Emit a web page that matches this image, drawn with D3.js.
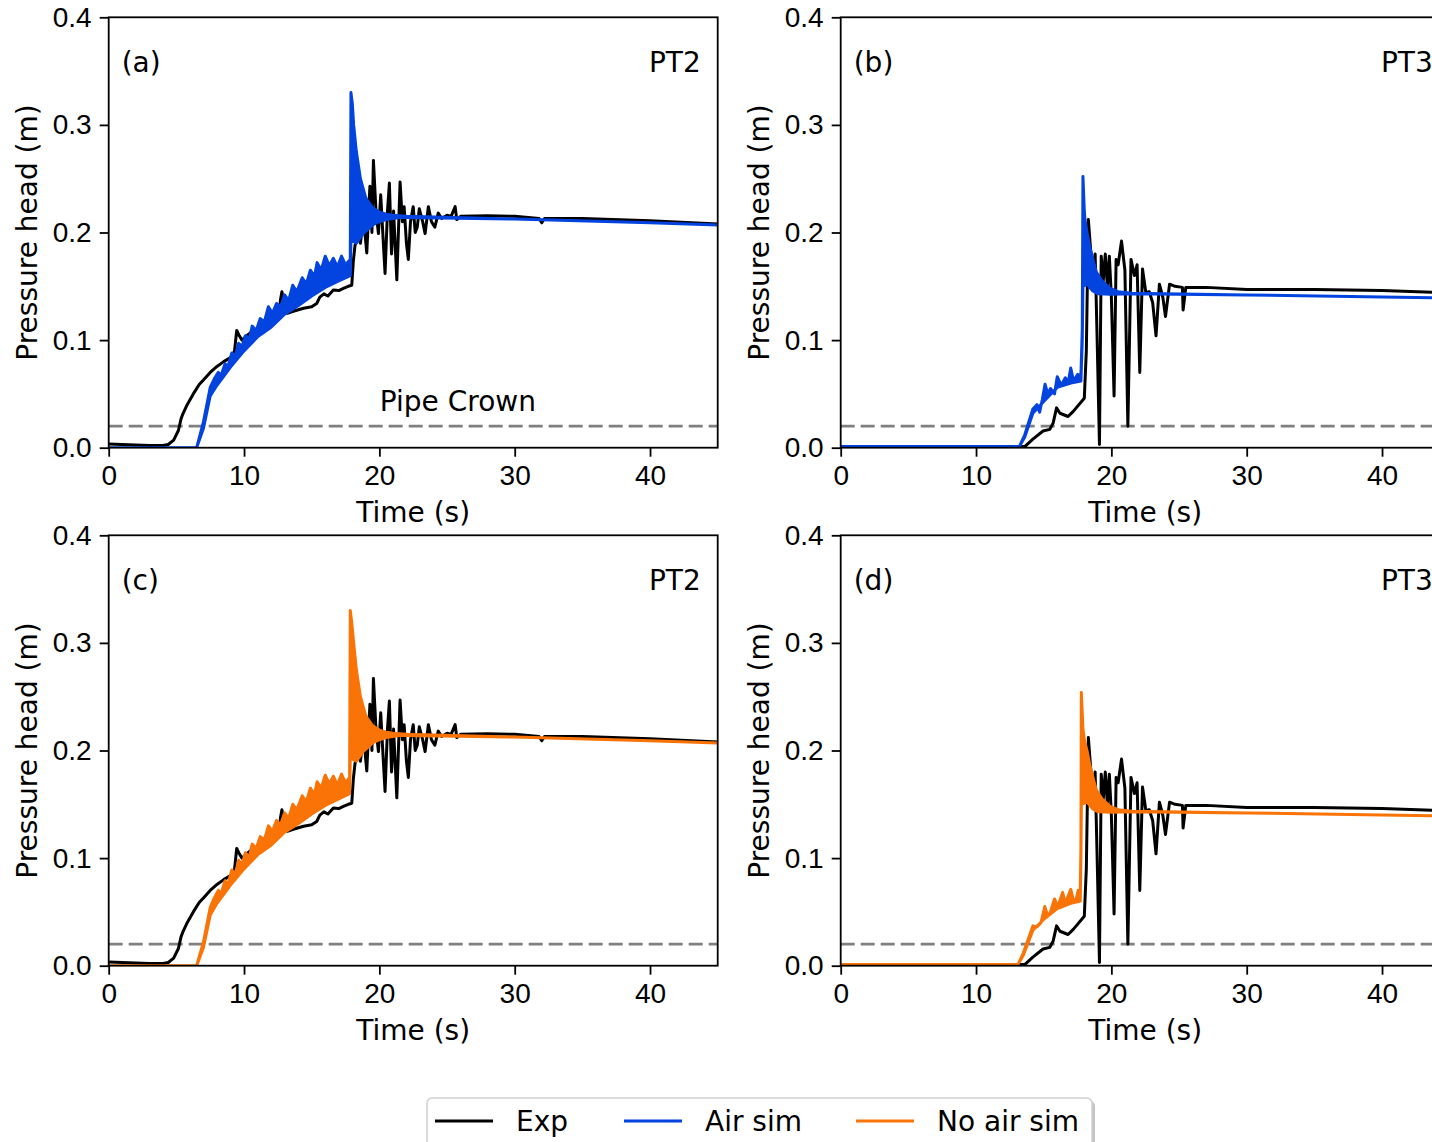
<!DOCTYPE html>
<html>
<head>
<meta charset="UTF-8">
<title>Pressure head PT2 / PT3</title>
<script src="https://cdn.jsdelivr.net/npm/d3@7"></script>
<style>
	body { margin: 0; background: #fff; }
	svg { display: block; font-family: "DejaVu Sans", sans-serif; }
	.axis text { font-size: 28px; fill: #000; }
	.axis path, .axis line { stroke: #000; stroke-width: 1.8px; }
	.frame { fill: none; stroke: #000; stroke-width: 1.8px; }
	.lbl { font-size: 28px; fill: #000; }
	.crown { stroke: #808080; stroke-width: 2.8px; stroke-dasharray: 14 6; }
	.exp { fill: none; stroke: #000; stroke-width: 3px; stroke-linejoin: round; }
	.sim { stroke-width: 3px; stroke-linejoin: round; }
</style>
</head>
<body>
<svg id="chart" width="1432" height="1142"></svg>
<script>
	// ---- data ----
	const xTicks = [0, 10, 20, 30, 40];
	const yTicks = [0, 0.1, 0.2, 0.3, 0.4];
	const pipeCrown = 0.02;
	const panelLabels = ['(a)', '(b)', '(c)', '(d)'];
	const sensorNames = ['PT2', 'PT3', 'PT2', 'PT3'];
	const legendLabels = ['Exp', 'Air sim', 'No air sim'];

	// experiment, [time s, head m]
	const expPT2 = [[0,0.0035],[1,0.003],[2,0.0025],[3,0.002],[4,0.002],[4.4,0.003],[4.8,0.007],[5.15,0.016],
		[5.35,0.027],[5.5,0.032],[5.8,0.04],[6.25,0.05],[6.7,0.059],[7.0,0.063],[7.5,0.07],[8.0,0.0755],[8.5,0.08],
		[9.1,0.0846],[9.3,0.09],[9.46,0.109],[9.65,0.104],[9.85,0.1],[10.2,0.104],[10.6,0.108],[11.2,0.109],
		[11.7,0.113],[12.2,0.116],[12.55,0.12],[12.7,0.138],[12.8,0.145],[13.0,0.13],[13.2,0.125],[13.7,0.127],
		[14.4,0.1296],[15.0,0.131],[15.37,0.134],[15.6,0.14],[15.9,0.143],[16.2,0.141],[16.6,0.1466],[17.0,0.146],
		[17.34,0.148],[17.7,0.15],[17.96,0.151],[18.08,0.174],[18.2,0.188],[18.45,0.196],[18.6,0.19],[18.82,0.215],
		[19.07,0.181],[19.3,0.243],[19.45,0.2],[19.56,0.267],[19.75,0.22],[19.93,0.199],[20.1,0.235],[20.25,0.2],
		[20.42,0.162],[20.6,0.22],[20.74,0.246],[20.9,0.18],[21.05,0.22],[21.29,0.156],[21.53,0.247],[21.7,0.21],
		[21.83,0.224],[22.0,0.19],[22.14,0.175],[22.3,0.21],[22.5,0.224],[22.65,0.2],[22.8,0.205],[22.95,0.222],
		[23.2,0.21],[23.38,0.199],[23.62,0.224],[23.85,0.21],[24.1,0.205],[24.35,0.218],[24.6,0.213],[25.0,0.216],
		[25.3,0.215],[25.6,0.224],[25.72,0.212],[26.0,0.215],[28,0.2155],[30,0.215],[31.8,0.213],[32.0,0.209],
		[32.2,0.213],[35,0.213],[40,0.211],[45,0.208]];

	const expPT3 = [[0,0.001],[13.6,0.001],[14.2,0.008],[14.95,0.0155],[15.45,0.017],[15.7,0.023],[15.95,0.037],
		[16.2,0.032],[16.8,0.029],[17.2,0.034],[18.0,0.046],[18.15,0.09],[18.3,0.212],[18.45,0.187],[18.6,0.16],
		[18.8,0.18],[18.95,0.1],[19.12,0.003],[19.25,0.178],[19.4,0.155],[19.55,0.18],[19.7,0.15],[19.85,0.178],
		[20.0,0.14],[20.2,0.048],[20.35,0.175],[20.5,0.17],[20.75,0.192],[21.0,0.165],[21.22,0.02],[21.45,0.175],
		[21.7,0.16],[21.9,0.17],[22.1,0.07],[22.3,0.166],[22.55,0.144],[22.8,0.145],[23.05,0.135],[23.3,0.104],
		[23.55,0.152],[23.8,0.14],[24.0,0.122],[24.3,0.152],[24.7,0.15],[25.25,0.149],[25.3,0.128],[25.5,0.149],
		[27,0.149],[30,0.147],[35,0.147],[40,0.146],[45,0.144]];

	// simulations: upper and lower edge of the oscillating band
	const airPT2Upper = [[0,0],[6.5,0],[7.0,0.024],[7.5,0.056],[7.8,0.064],[8.1,0.07],[8.3,0.067],[8.6,0.078],
		[8.8,0.075],[9.1,0.088],[9.35,0.085],[9.6,0.097],[9.85,0.094],[10.1,0.104],[10.4,0.101],[10.6,0.113],
		[10.9,0.109],[11.2,0.12],[11.5,0.117],[11.8,0.131],[12.1,0.125],[12.4,0.134],[12.7,0.131],[13.0,0.142],
		[13.3,0.137],[13.6,0.151],[13.9,0.145],[14.3,0.158],[14.6,0.152],[14.9,0.165],[15.2,0.159],[15.4,0.172],
		[15.7,0.165],[16.0,0.178],[16.3,0.169],[16.6,0.176],[16.9,0.168],[17.2,0.178],[17.5,0.17],[17.85,0.175],
		[17.9,0.33],[18.0,0.32],[18.1,0.3],[18.3,0.275],[18.6,0.25],[19.0,0.232],[19.5,0.223],[20,0.219],
		[20.5,0.217],[21,0.216],[21.5,0.2155],[22,0.215],[30,0.2125],[40,0.209],[45,0.207]];
	const airPT2Lower = [[0,0],[6.5,0],[7.0,0.018],[7.5,0.048],[8,0.058],[9,0.075],[10,0.09],[11,0.103],
		[12,0.112],[13,0.124],[14,0.132],[15,0.141],[16,0.149],[17,0.155],[17.85,0.16],[17.9,0.193],[18.3,0.19],
		[18.8,0.199],[19.5,0.207],[20,0.21],[20.5,0.212],[21,0.213],[21.5,0.214],[22,0.214],[30,0.2125],
		[40,0.209],[45,0.207]];

	const airPT3Upper = [[0,0.001],[13.2,0.001],[13.6,0.012],[14.2,0.036],[14.5,0.04],[14.7,0.033],[14.9,0.045],
		[15.1,0.059],[15.3,0.05],[15.5,0.055],[15.8,0.05],[16.0,0.066],[16.3,0.058],[16.6,0.065],[16.8,0.06],
		[17.0,0.074],[17.2,0.062],[17.5,0.068],[17.75,0.067],[17.85,0.11],[17.9,0.252],[18.0,0.22],[18.05,0.212],
		[18.2,0.2],[18.4,0.187],[18.7,0.172],[18.9,0.163],[19.3,0.155],[19.9,0.148],[20.5,0.145],[21.5,0.1435],
		[30,0.142],[40,0.14],[45,0.139]];
	const airPT3Lower = [[0,0.001],[13.2,0.001],[13.6,0.01],[14.2,0.032],[15,0.043],[16,0.056],[17,0.06],
		[17.75,0.062],[17.85,0.1],[17.9,0.15],[18.2,0.152],[18.6,0.146],[19.0,0.143],[20,0.1425],[21.5,0.143],
		[30,0.142],[40,0.14],[45,0.139]];

	const noAirPT2Upper = [[0,0],[6.5,0],[7.0,0.022],[7.5,0.054],[7.8,0.063],[8.1,0.07],[8.3,0.067],[8.6,0.079],
		[8.8,0.075],[9.1,0.089],[9.35,0.085],[9.6,0.098],[9.85,0.094],[10.1,0.105],[10.4,0.101],[10.6,0.113],
		[10.9,0.109],[11.2,0.12],[11.5,0.117],[11.8,0.13],[12.1,0.125],[12.4,0.135],[12.7,0.131],[13.0,0.142],
		[13.3,0.137],[13.6,0.15],[13.9,0.145],[14.3,0.158],[14.6,0.152],[14.9,0.165],[15.2,0.159],[15.4,0.171],
		[15.7,0.165],[16.0,0.177],[16.3,0.169],[16.6,0.176],[16.9,0.168],[17.2,0.178],[17.5,0.17],[17.8,0.175],
		[17.85,0.33],[17.95,0.32],[18.1,0.3],[18.3,0.275],[18.6,0.25],[19.0,0.232],[19.5,0.223],[20,0.219],
		[20.5,0.217],[21,0.216],[21.5,0.2155],[22,0.215],[30,0.2125],[40,0.209],[45,0.207]];
	const noAirPT2Lower = [[0,0],[6.5,0],[7.0,0.017],[7.5,0.047],[8,0.058],[9,0.075],[10,0.09],[11,0.103],
		[12,0.112],[13,0.124],[14,0.132],[15,0.141],[16,0.149],[17,0.155],[17.8,0.16],[17.85,0.193],[18.3,0.19],
		[18.8,0.199],[19.5,0.207],[20,0.21],[20.5,0.212],[21,0.213],[21.5,0.214],[22,0.214],[30,0.2125],
		[40,0.209],[45,0.207]];

	const noAirPT3Upper = [[0,0.001],[13.1,0.001],[13.5,0.012],[14.2,0.037],[14.5,0.036],[14.8,0.04],[15.08,0.055],
		[15.3,0.046],[15.5,0.05],[15.8,0.062],[16.05,0.055],[16.4,0.068],[16.6,0.058],[17.0,0.071],[17.2,0.06],
		[17.4,0.062],[17.55,0.07],[17.7,0.068],[17.75,0.11],[17.78,0.254],[17.9,0.22],[18.0,0.21],
		[18.2,0.2],[18.4,0.187],[18.7,0.172],[18.9,0.163],[19.3,0.155],[19.9,0.148],[20.5,0.145],[21.5,0.1435],
		[30,0.142],[40,0.14],[45,0.139]];
	const noAirPT3Lower = [[0,0.001],[13.1,0.001],[13.5,0.01],[14.2,0.033],[15,0.043],[16,0.053],[17,0.058],
		[17.7,0.06],[17.75,0.1],[17.78,0.15],[18.2,0.152],[18.6,0.146],[19.0,0.143],[20,0.1425],[21.5,0.143],
		[30,0.142],[40,0.14],[45,0.139]];

	const colors = { exp: '#000000', air: '#0343df', noAir: '#f97306' };
	const legendColors = [colors.exp, colors.air, colors.noAir];

	// ---- layout ----
	const W = 609, H = 430.4;
	const panels = [
		{ x0: 108.7, y0: 17.3, exp: expPT2, up: airPT2Upper, lo: airPT2Lower, color: colors.air },
		{ x0: 840.7, y0: 17.3, exp: expPT3, up: airPT3Upper, lo: airPT3Lower, color: colors.air },
		{ x0: 108.7, y0: 535.3, exp: expPT2, up: noAirPT2Upper, lo: noAirPT2Lower, color: colors.noAir },
		{ x0: 840.7, y0: 535.3, exp: expPT3, up: noAirPT3Upper, lo: noAirPT3Lower, color: colors.noAir }
	];

	const svg = d3.select('#chart');
	const x = d3.scaleLinear().domain([0, 45]).range([0, W]);
	const y = d3.scaleLinear().domain([0, 0.4]).range([H, 0]);
	const line = d3.line().x(d => x(d[0])).y(d => y(d[1]));

	panels.forEach((p, i) => {
		const g = svg.append('g').attr('transform', `translate(${p.x0},${p.y0})`);

		g.append('clipPath').attr('id', `clip-${i}`)
			.append('rect').attr('width', W).attr('height', H);

		const plot = g.append('g').attr('clip-path', `url(#clip-${i})`);

		plot.append('line').attr('class', 'crown')
			.attr('x1', 0).attr('x2', W)
			.attr('y1', y(pipeCrown)).attr('y2', y(pipeCrown));

		plot.append('path').attr('class', 'exp').attr('d', line(p.exp));

		const band = p.up.concat(p.lo.slice().reverse());
		plot.append('path').attr('class', 'sim')
			.attr('d', line(band) + 'Z')
			.attr('fill', p.color).attr('stroke', p.color);

		g.append('g').attr('class', 'axis')
			.call(d3.axisLeft(y).tickValues(yTicks).tickFormat(d3.format('.1f')).tickSize(9).tickPadding(8).tickSizeOuter(0));
		g.append('g').attr('class', 'axis').attr('transform', `translate(0,${H})`)
			.call(d3.axisBottom(x).tickValues(xTicks).tickFormat(d3.format('d')).tickSize(9).tickPadding(8).tickSizeOuter(0));
		g.selectAll('.axis .domain').remove();

		g.append('rect').attr('class', 'frame').attr('width', W).attr('height', H);

		g.append('text').attr('class', 'lbl').attr('x', 13).attr('y', 55).text(panelLabels[i]);
		g.append('text').attr('class', 'lbl').attr('x', W - 17).attr('y', 55)
			.attr('text-anchor', 'end').text(sensorNames[i]);

		g.append('text').attr('class', 'lbl').attr('text-anchor', 'middle')
			.attr('x', W / 2).attr('y', H + 74).text('Time (s)');
		g.append('text').attr('class', 'lbl').attr('text-anchor', 'middle')
			.attr('transform', `translate(-72,${H / 2}) rotate(-90)`).text('Pressure head (m)');

		if (i === 0) {
			g.append('text').attr('class', 'lbl').attr('text-anchor', 'middle')
				.attr('x', x(25.8)).attr('y', y(pipeCrown) - 15).text('Pipe Crown');
		}
	});

	// ---- legend ----
	const leg = svg.append('g');
	leg.append('rect').attr('x', 430).attr('y', 1101).attr('width', 665).attr('height', 60)
		.attr('rx', 5).attr('fill', '#888').attr('opacity', 0.5);
	leg.append('rect').attr('x', 427).attr('y', 1098).attr('width', 665).attr('height', 60)
		.attr('rx', 5).attr('fill', '#fff').attr('stroke', '#d0d0d0').attr('stroke-width', 1.5);
	const legX = [435, 624, 856];
	legendLabels.forEach((t, i) => {
		leg.append('line').attr('x1', legX[i]).attr('x2', legX[i] + 58)
			.attr('y1', 1121).attr('y2', 1121)
			.attr('stroke', legendColors[i]).attr('stroke-width', 3);
		leg.append('text').attr('class', 'lbl').attr('x', legX[i] + 81).attr('y', 1131).text(t);
	});
</script>
</body>
</html>
